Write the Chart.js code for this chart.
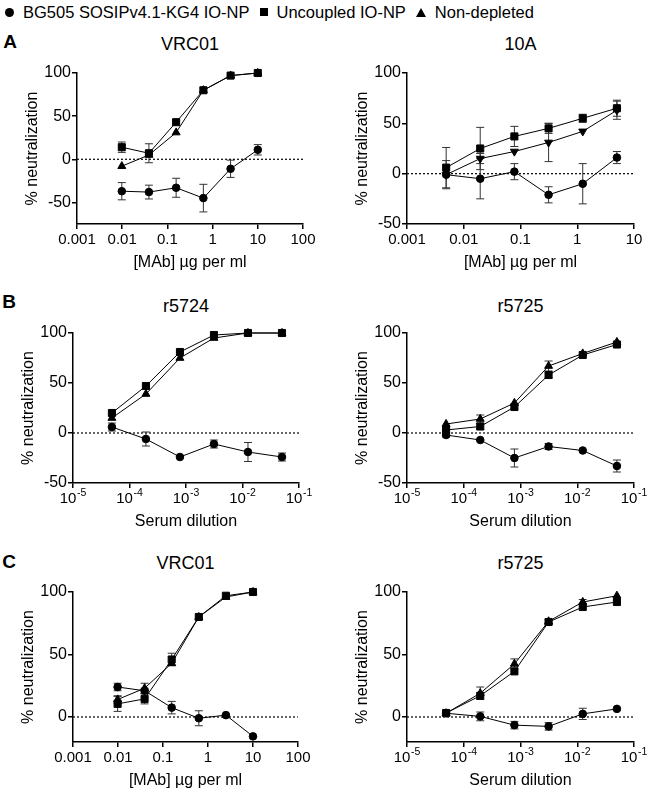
<!DOCTYPE html>
<html>
<head>
<meta charset="utf-8">
<script src="https://cdn.jsdelivr.net/npm/chart.js@4.4.0/dist/chart.umd.min.js"></script>
<style>
  body { margin: 0; background: #fff; width: 650px; height: 793px; position: relative; overflow: hidden;
         font-family: "Liberation Sans", Arial, sans-serif; color: #000; }
  .abs { position: absolute; white-space: nowrap; }
  .ctr { transform: translate(-50%, -50%); }
  .letter { font-weight: bold; font-size: 19px; }
  .ttl { font-size: 18px; }
  #legend { left: 5px; top: 2px; font-size: 16.5px; display: flex; align-items: center; height: 20px; }
  #legend .mk { display: inline-block; background: #000; margin-right: 9px; }
  #legend .item { display: flex; align-items: center; margin-right: 10px; }
  .circ { width: 9px; height: 9px; border-radius: 50%; }
  .sq { width: 8px; height: 8px; }
  .tri { width: 0; height: 0; background: none !important; border-left: 5px solid transparent;
         border-right: 5px solid transparent; border-bottom: 9px solid #000; }
  canvas { position: absolute; }
</style>
</head>
<body>
<div id="legend" class="abs">
  <span class="item"><span class="mk circ"></span>BG505 SOSIPv4.1-KG4 IO-NP</span>
  <span class="item"><span class="mk sq"></span>Uncoupled IO-NP</span>
  <span class="item"><span class="mk tri"></span>Non-depleted</span>
</div>
<div class="abs ctr letter" style="left:10px;top:42px">A</div>
<div class="abs ctr letter" style="left:9px;top:302px">B</div>
<div class="abs ctr letter" style="left:9px;top:562px">C</div>

<script>
// x values (fourfold dilutions)
const mabConc = [0.0098, 0.039, 0.156, 0.625, 2.5, 10];
const mab10AConc = [0.0049, 0.0195, 0.078, 0.3125, 1.25, 5];
const serumDil = [1 / 20480, 1 / 5120, 1 / 1280, 1 / 320, 1 / 80, 1 / 20];

const mabTicks = [0.001, 0.01, 0.1, 1, 10, 100];
const mab10ATicks = [0.001, 0.01, 0.1, 1, 10];
const serumTicks = [1e-5, 1e-4, 1e-3, 1e-2, 1e-1];
const neutTicks = [-50, 0, 50, 100];

// A - VRC01
const aVrcNp = [-37, -38, -33, -45, -11, 11];
const aVrcNpErr = [10, 8, 11, 16, 10, 6];
const aVrcUnc = [14, 7, 43, 80, 97, 100];
const aVrcUncErr = [6, 11, 0, 0, 0, 0];
const aVrcNd = [-8, 5, 31, 80, 97, 100];
const aVrcNdErr = [0, 0, 0, 0, 0, 0];

// A - 10A
const a10Np = [-1, -5, 2, -21, -10, 16];
const a10NpErr = [14, 20, 8, 8, 20, 6];
const a10Unc = [6, 25, 37, 45, 55, 65];
const a10UncErr = [20, 21, 10, 5, 4, 8];
const a10Nd = [-1, 15, 22, 31, 42, 63];
const a10NdErr = [0, 5, 0, 19, 0, 9];

// B - r5724
const bR24Np = [6, -6, -24, -11, -19, -24];
const bR24NpErr = [4, 7, 0, 4, 9.5, 4];
const bR24Unc = [20, 47, 81, 98, 100, 100];
const bR24UncErr = [0, 0, 0, 0, 0, 0];
const bR24Nd = [15, 39, 75, 95, 100, 100];
const bR24NdErr = [0, 0, 0, 0, 0, 0];

// B - r5725
const bR25Np = [-2, -7, -25, -13.5, -17.5, -33];
const bR25NpErr = [2, 0, 9, 3, 0, 6];
const bR25Unc = [3, 6.5, 26, 58, 78, 88.5];
const bR25UncErr = [3, 3, 2, 3, 0, 0];
const bR25Nd = [9, 14, 30, 67, 79.5, 91];
const bR25NdErr = [0, 4, 0, 5, 0, 0];

// C - VRC01
const cVrcNp = [24, 21, 7.5, -1, 1.5, -15.5];
const cVrcNpErr = [3, 2, 5, 6, 0, 0];
const cVrcUnc = [10.5, 14.5, 46, 80, 97, 100];
const cVrcUncErr = [6, 4, 5, 0, 0, 0];
const cVrcNd = [14, 23, 43, 80, 96, 100];
const cVrcNdErr = [3, 4, 0, 0, 0, 0];

// C - r5725
const cR25Np = [3, 0.5, -6.5, -7.5, 2.5, 6.5];
const cR25NpErr = [0, 3.5, 3, 3, 4.5, 0];
const cR25Unc = [3.2, 17, 36.5, 76, 88, 92];
const cR25UncErr = [2, 0, 0, 2, 0, 0];
const cR25Nd = [3, 19, 42.5, 76.5, 92, 97];
const cR25NdErr = [0, 5, 4, 0, 2, 0];

const FONT = '"Liberation Sans", Arial, sans-serif';
Chart.defaults.font.family = FONT;
Chart.defaults.color = '#000';

function mabLabel(v) { return String(v); }
function noLabel() { return ''; }

// dotted zero line, error bars and 10^x tick labels, all placed through the chart's scales
const extras = {
  id: 'extras',
  beforeDatasetsDraw(chart) {
    const { ctx, chartArea, scales } = chart;
    const y0 = scales.y.getPixelForValue(0);
    ctx.save();
    ctx.strokeStyle = '#000';
    ctx.lineWidth = 1.2;
    ctx.setLineDash([2, 2]);
    ctx.beginPath();
    ctx.moveTo(chartArea.left, y0);
    ctx.lineTo(chartArea.right, y0);
    ctx.stroke();
    ctx.setLineDash([]);
    ctx.lineWidth = 1;
    ctx.strokeStyle = '#333';
    chart.data.datasets.forEach(ds => {
      ds.data.forEach((p, i) => {
        const e = ds.err[i];
        if (!e) return;
        const x = scales.x.getPixelForValue(p.x);
        const yt = scales.y.getPixelForValue(p.y + e);
        const yb = scales.y.getPixelForValue(p.y - e);
        ctx.beginPath();
        ctx.moveTo(x, yt); ctx.lineTo(x, yb);
        ctx.moveTo(x - 4, yt); ctx.lineTo(x + 4, yt);
        ctx.moveTo(x - 4, yb); ctx.lineTo(x + 4, yb);
        ctx.stroke();
      });
    });
    ctx.restore();
  },
  afterDraw(chart) {
    if (!chart.options.powerTicks) return;
    const { ctx, chartArea, scales } = chart;
    ctx.save();
    ctx.fillStyle = '#000';
    ctx.textBaseline = 'top';
    ctx.textAlign = 'left';
    scales.x.ticks.forEach(t => {
      const x = scales.x.getPixelForValue(t.value);
      const base = '10', exp = String(Math.round(Math.log10(t.value)));
      ctx.font = '15px ' + FONT;
      const wb = ctx.measureText(base).width;
      ctx.font = '10.5px ' + FONT;
      const we = ctx.measureText(exp).width;
      const x0 = x - (wb + we + 0.5) / 2;
      ctx.font = '15px ' + FONT;
      ctx.fillText(base, x0, chartArea.bottom + 8);
      ctx.font = '10.5px ' + FONT;
      ctx.fillText(exp, x0 + wb + 0.5, chartArea.bottom + 4.5);
    });
    ctx.restore();
  }
};

function series(xs, ys, err, style, r, rot) {
  return {
    data: xs.map((x, i) => ({ x: x, y: ys[i] })),
    err: err,
    showLine: true,
    borderColor: '#000',
    borderWidth: 1,
    pointStyle: style,
    pointRadius: r,
    pointRotation: rot || 0,
    pointBackgroundColor: '#000',
    pointBorderColor: '#000',
    pointBorderWidth: 1,
    clip: false
  };
}

const YW = 56, XH = 48, PT = 12, PR = 24;

function panel(p) {
  const cv = document.createElement('canvas');
  const left = Math.round(p.area[0] - YW), top = Math.round(p.area[1] - PT);
  const w = Math.round(p.area[2] - p.area[0]) + YW + PR;
  const h = Math.round(p.area[3] - p.area[1]) + PT + XH;
  cv.width = w; cv.height = h;
  cv.style.left = left + 'px'; cv.style.top = top + 'px';
  document.body.appendChild(cv);

  const t = document.createElement('div');
  t.className = 'abs ctr ttl';
  t.textContent = p.title;
  t.style.left = ((p.area[0] + p.area[2]) / 2) + 'px';
  t.style.top = p.titleY + 'px';
  document.body.appendChild(t);

  const serum = p.xTicks === serumTicks;

  new Chart(cv, {
    type: 'scatter',
    data: {
      datasets: [
        series(p.xs, p.nd, p.ndErr, 'triangle', 4.6, p.ndRot),
        series(p.xs, p.unc, p.uncErr, 'rect', 5),
        series(p.xs, p.np, p.npErr, 'circle', 3.8)
      ]
    },
    options: {
      responsive: false,
      animation: false,
      powerTicks: serum,
      layout: { padding: { top: PT, right: PR, left: 0, bottom: 0 } },
      plugins: { legend: { display: false }, tooltip: { enabled: false } },
      scales: {
        x: {
          type: 'logarithmic',
          min: p.xTicks[0], max: p.xTicks[p.xTicks.length - 1],
          border: { color: '#000', width: 1.5 },
          grid: { drawOnChartArea: false, drawTicks: true, tickLength: 5, color: '#000', lineWidth: 1.5 },
          ticks: { font: { size: 15 }, color: '#000', padding: 2, maxRotation: 0, autoSkip: false,
                   callback: serum ? noLabel : mabLabel },
          title: { display: true, text: p.xTitle, font: { size: 16 }, color: '#000', padding: 0 },
          afterBuildTicks: s => { s.ticks = p.xTicks.map(v => ({ value: v })); },
          afterFit: s => { s.height = XH; s.paddingLeft = 0; s.paddingRight = 0; }
        },
        y: {
          min: p.ymin, max: 100,
          border: { color: '#000', width: 1.5 },
          grid: { drawOnChartArea: false, drawTicks: true, tickLength: 5, color: '#000', lineWidth: 1.5 },
          ticks: { font: { size: 16 }, color: '#000', padding: 1 },
          title: { display: true, text: '% neutralization', font: { size: 16 }, color: '#000', padding: { top: 2, bottom: 0 } },
          afterBuildTicks: s => { s.ticks = neutTicks.filter(v => v >= p.ymin).map(v => ({ value: v })); },
          afterFit: s => { s.width = YW; s.paddingTop = 0; s.paddingBottom = 0; }
        }
      }
    },
    plugins: [extras]
  });
}

panel({ area: [77, 72.7, 303, 224], ymin: -75, title: 'VRC01', titleY: 44, xs: mabConc, xTicks: mabTicks,
        xTitle: '[MAb] \u00B5g per ml',
        np: aVrcNp, npErr: aVrcNpErr, unc: aVrcUnc, uncErr: aVrcUncErr, nd: aVrcNd, ndErr: aVrcNdErr });
panel({ area: [407, 73.3, 634, 224.3], ymin: -50, title: '10A', titleY: 44, xs: mab10AConc, xTicks: mab10ATicks,
        xTitle: '[MAb] \u00B5g per ml', ndRot: 180,
        np: a10Np, npErr: a10NpErr, unc: a10Unc, uncErr: a10UncErr, nd: a10Nd, ndErr: a10NdErr });
panel({ area: [73, 333.3, 299, 483.7], ymin: -50, title: 'r5724', titleY: 306, xs: serumDil, xTicks: serumTicks,
        xTitle: 'Serum dilution',
        np: bR24Np, npErr: bR24NpErr, unc: bR24Unc, uncErr: bR24UncErr, nd: bR24Nd, ndErr: bR24NdErr });
panel({ area: [407, 333.3, 634, 483.7], ymin: -50, title: 'r5725', titleY: 306, xs: serumDil, xTicks: serumTicks,
        xTitle: 'Serum dilution',
        np: bR25Np, npErr: bR25NpErr, unc: bR25Unc, uncErr: bR25UncErr, nd: bR25Nd, ndErr: bR25NdErr });
panel({ area: [73, 592.3, 298, 742], ymin: -20, title: 'VRC01', titleY: 563, xs: mabConc, xTicks: mabTicks,
        xTitle: '[MAb] \u00B5g per ml',
        np: cVrcNp, npErr: cVrcNpErr, unc: cVrcUnc, uncErr: cVrcUncErr, nd: cVrcNd, ndErr: cVrcNdErr });
panel({ area: [407, 592.3, 634, 742], ymin: -20, title: 'r5725', titleY: 563, xs: serumDil, xTicks: serumTicks,
        xTitle: 'Serum dilution',
        np: cR25Np, npErr: cR25NpErr, unc: cR25Unc, uncErr: cR25UncErr, nd: cR25Nd, ndErr: cR25NdErr });
</script>
</body>
</html>
